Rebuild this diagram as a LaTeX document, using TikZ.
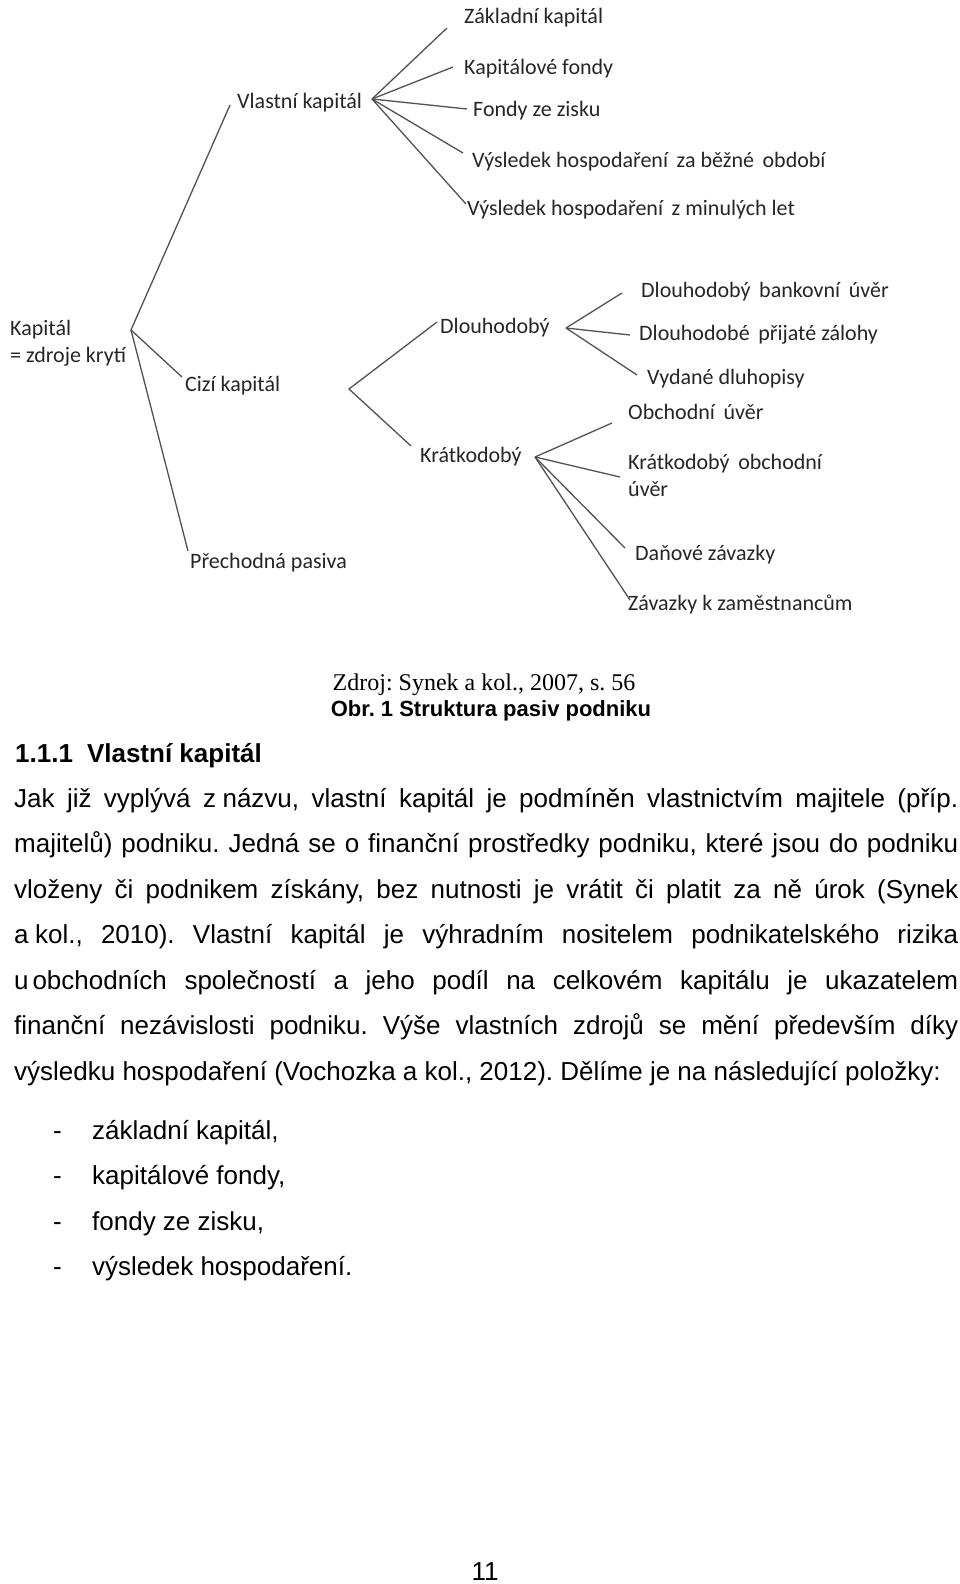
\documentclass[tikz,border=0pt]{standalone}
\usepackage{fontspec}
\setmainfont{Liberation Sans}
\newfontfamily\calfont{Carlito}
\newfontfamily\timesfont{Liberation Serif}
\frenchspacing
\begin{document}
\begin{tikzpicture}[x=1pt,y=-1pt,
  dtext/.style={anchor=base west,inner sep=0pt,text=black!85,font=\calfont\fontsize{22}{26}\selectfont},
  conn/.style={draw=black!68,line width=1.3pt},
  body/.style={anchor=base west,inner sep=0pt,font=\fontsize{26}{30}\selectfont},
  capt/.style={anchor=base,inner sep=0pt}]
\useasboundingbox[fill=white] (0,0) rectangle (960,1584);

% ---- diagram texts ----
\node[dtext] (kap) at (10,335) {Kapitál};
\node[dtext] (kap2) at (10,362) {= zdroje krytí};
\node[dtext] (vk) at (237,109) {Vlastní kapitál};
\node[dtext] (ck) at (185,391) {Cizí kapitál};
\node[dtext] (pp) at (190,568) {Přechodná pasiva};
\node[dtext] (zk) at (464,24) {Základní kapitál};
\node[dtext] (kf) at (464,75) {Kapitálové fondy};
\node[dtext] (fz) at (473,117) {Fondy ze zisku};
\node[dtext] (vb) at (472,167) {Výsledek hospodaření\, za běžné\, období};
\node[dtext] (vm) at (467,215) {Výsledek hospodaření\, z minulých let};
\node[dtext] (dl) at (440,333) {Dlouhodobý};
\node[dtext] (kr) at (420,462) {Krátkodobý};
\node[dtext] (dbu) at (641,297) {Dlouhodobý\, bankovní\, úvěr};
\node[dtext] (dpz) at (639,340) {Dlouhodobé\, přijaté zálohy};
\node[dtext] (vd) at (647,384) {Vydané dluhopisy};
\node[dtext] (ou) at (628,419) {Obchodní\, úvěr};
\node[dtext] (kou) at (628,469) {Krátkodobý\, obchodní};
\node[dtext] (kou2) at (628,496) {úvěr};
\node[dtext] (dz) at (635,560) {Daňové závazky};
\node[dtext] (zz) at (628,610) {Závazky k zaměstnancům};

% ---- connector points ----
\coordinate (vK) at (131,330);
\coordinate (vV) at (372,99);
\coordinate (vC) at (349,389);
\coordinate (vD) at (566,328);
\coordinate (vKr) at (535,457);
\coordinate (eVK) at (230,105);
\coordinate (eCK) at (182,377);
\coordinate (ePP) at (188,551);
\coordinate (eZK) at (447,28);
\coordinate (eKF) at (453,67);
\coordinate (eFZ) at (467,109);
\coordinate (eVB) at (463,153);
\coordinate (eVM) at (466,204);
\coordinate (eDL) at (437,322);
\coordinate (eKR) at (411,446);
\coordinate (eDBU) at (622,293);
\coordinate (eDPZ) at (630,335);
\coordinate (eVD) at (637,375);
\coordinate (eOU) at (612,423);
\coordinate (eKOU) at (620,477);
\coordinate (eDZ) at (625,548);
\coordinate (eZZ) at (630,600);

\draw[conn] (eVK) -- (vK) -- (eCK);
\draw[conn] (vK) -- (ePP);
\foreach \e in {eZK,eKF,eFZ,eVB,eVM} \draw[conn] (vV) -- (\e);
\draw[conn] (eDL) -- (vC) -- (eKR);
\foreach \e in {eDBU,eDPZ,eVD} \draw[conn] (vD) -- (\e);
\foreach \e in {eOU,eKOU,eDZ,eZZ} \draw[conn] (vKr) -- (\e);

% ---- caption ----
\node[capt,font=\timesfont\fontsize{24}{28}\selectfont] (src) at (484,690) {Zdroj: Synek a kol., 2007, s. 56};
\node[capt,font=\bfseries\fontsize{22}{26}\selectfont] (obr) at (491,716) {Obr. 1 Struktura pasiv podniku};

% ---- heading ----
\node[body,font=\bfseries\fontsize{26}{30}\selectfont] (head) at (15,762) {1.1.1\hspace{14pt}Vlastní kapitál};

% ---- paragraph ----
\node[body] (l1) at (14,807) {\makebox[944pt][s]{Jak již vyplývá z\kern0.25em názvu, vlastní kapitál je podmíněn vlastnictvím majitele (příp.}};
\node[body] (l2) at (14,852.5) {\makebox[944pt][s]{majitelů) podniku. Jedná se o finanční prostředky podniku, které jsou do podniku}};
\node[body] (l3) at (14,898) {\makebox[944pt][s]{vloženy či podnikem získány, bez nutnosti je vrátit či platit za ně úrok (Synek}};
\node[body] (l4) at (14,943) {\makebox[944pt][s]{a\kern0.25em kol., 2010). Vlastní kapitál je výhradním nositelem podnikatelského rizika}};
\node[body] (l5) at (14,989) {\makebox[944pt][s]{u\kern0.15em obchodních společností a jeho podíl na celkovém kapitálu je ukazatelem}};
\node[body] (l6) at (14,1034) {\makebox[944pt][s]{finanční nezávislosti podniku. Výše vlastních zdrojů se mění především díky}};
\node[body] (l7) at (14,1080) {výsledku hospodaření (Vochozka a kol., 2012). Dělíme je na následující položky:};

% ---- list ----
\node[body] (d1) at (53,1139) {-};
\node[body] (b1) at (92,1139) {základní kapitál,};
\node[body] (d2) at (53,1184) {-};
\node[body] (b2) at (92,1184) {kapitálové fondy,};
\node[body] (d3) at (53,1230) {-};
\node[body] (b3) at (92,1230) {fondy ze zisku,};
\node[body] (d4) at (53,1275) {-};
\node[body] (b4) at (92,1275) {výsledek hospodaření.};

% ---- page number ----
\node[capt,font=\fontsize{26}{30}\selectfont] (pg) at (485,1580) {11};
\end{tikzpicture}
\end{document}
